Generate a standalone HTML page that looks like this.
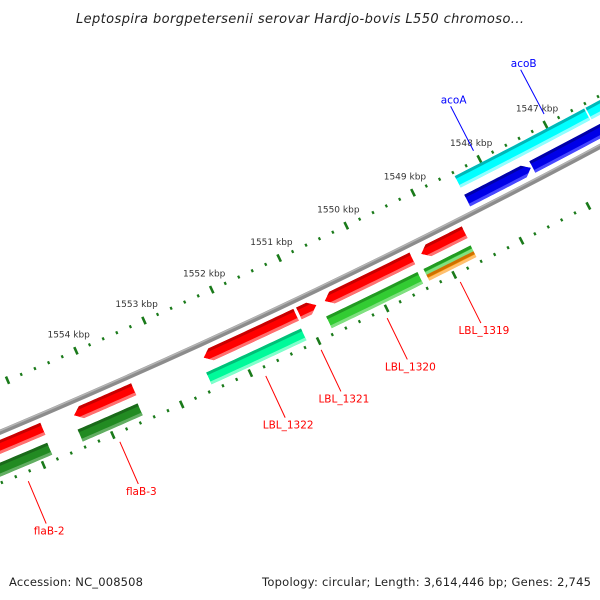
<!DOCTYPE html>
<html><head><meta charset="utf-8"><title>Genome map</title>
<style>
html,body{margin:0;padding:0;background:#fff;}
svg{display:block;}
text{font-family:"DejaVu Sans","Liberation Sans",sans-serif;}
</style></head>
<body>
<svg id="map" width="600" height="600" viewBox="0 0 600 600" xmlns="http://www.w3.org/2000/svg">
<rect width="600" height="600" fill="#fff"/>
<defs id="defs"></defs>
<g id="backbone-g"></g>
<g id="ticks-g"></g>
<g id="feat-g"></g>
<g id="labels-g"></g>
<text x="300" y="23" text-anchor="middle" font-size="13" font-style="italic" fill="#222" textLength="448">Leptospira borgpetersenii serovar Hardjo-bovis L550 chromoso...</text>
<text x="9" y="586" font-size="11.5" fill="#222" textLength="134">Accession: NC_008508</text>
<text x="591" y="586" font-size="11.5" fill="#222" text-anchor="end" textLength="329">Topology: circular; Length: 3,614,446 bp; Genes: 2,745</text>
</svg>
<script>
// ---- data ----
var tickLabelKbp = [1547, 1548, 1549, 1550, 1551, 1552, 1553, 1554];
var featStart = [1556.5, 1554.37, 1552.48, 1551.08, 1550.70, 1549.27, 1556.5, 1554.40, 1552.53, 1550.77, 1549.33, 1549.33, 1548.40, 1547.42, 1548.40, 1546.42];
var featEnd   = [1554.82, 1553.50, 1551.12, 1550.82, 1549.40, 1548.62, 1554.84, 1553.53, 1551.14, 1549.42, 1548.63, 1548.63, 1547.44, 1545.5, 1546.44, 1545.0];
var featRing  = ['out1','out1','out1','out1','out1','out1','out2','out2','out2','out2','out2a','out2b','in1','in1','in2','in2'];
var featArrow = ['L','L','L','R','L','L','N','N','N','N','N','N','R','R','N','N'];
var featColor = ['red','red','red','red','red','red','dkgreen','dkgreen','teal','lime','lime','orange','blue','blue','cyan','cyan'];
var labelText = ['flaB-2','flaB-3','LBL_1322','LBL_1321','LBL_1320','LBL_1319','acoA','acoB'];
var labelKbp  = [1555.27, 1553.95, 1551.83, 1551.02, 1550.05, 1548.97, 1548.02, 1546.95];
var labelSide = ['out','out','out','out','out','out','in','in'];

// ---- geometry ----
var CX = -2784, CY = -6186, R = 7180;
var TH0 = 66.37, DEG_PER_KBP = 0.598;
function ang(k){ return (TH0 + (k - 1554) * DEG_PER_KBP) * Math.PI / 180; }
function pt(k, r){ var a = ang(k); return [CX + r*Math.cos(a), CY + r*Math.sin(a)]; }
var NS = 'http://www.w3.org/2000/svg';
function mk(tag, attrs, parent){ var e = document.createElementNS(NS, tag); for (var a in attrs) e.setAttribute(a, attrs[a]); parent.appendChild(e); return e; }
function arcPts(k1, k2, r){ var n = 24, out = []; for (var i=0;i<=n;i++){ out.push(pt(k1 + (k2-k1)*i/n, r)); } return out; }
function ptsStr(p){ return p.map(function(q){return q[0].toFixed(2)+','+q[1].toFixed(2);}).join(' '); }

var palette = {
  red:['#c80000','#ff0000','#ff7070'], dkgreen:['#1a6a1a','#228b22','#62ae62'],
  teal:['#00c078','#00fa9a','#80ffcc'], lime:['#229a22','#33cc33','#80e080'],
  orange:['#d07000','#ff9500','#ffc070'], blue:['#0000a8','#0000e8','#4848ff'],
  cyan:['#00b8b8','#00ffff','#90ffff']
};
var ringR = { out1:[R+7,R+20], out2:[R+28,R+41], out2a:[R+28,R+34.5], out2b:[R+34.5,R+41], in1:[R-20,R-7], in2:[R-41,R-28] };

// backbone
var bb = document.getElementById('backbone-g');
var bbLine = mk('polyline', {points: ptsStr(arcPts(1557.5,1544,R)), fill:'none', stroke:'#8c8c8c', 'stroke-width':5}, bb);


var bbHi = mk('polyline', {points: ptsStr(arcPts(1557.5,1544,R-1.5)), fill:'none', stroke:'#b4b4b4', 'stroke-width':1.5}, bb);



// ticks
var tg = document.getElementById('ticks-g');
var rings = [R-45, R+47];
for (var ri=0; ri<2; ri++){
  for (var t=0; t<=65; t++){
    var k = 1544 + t*0.2;
    var major = (t % 5 === 0);
    var len = major ? 8 : 3;
    var p1 = pt(k, rings[ri]-len/2), p2 = pt(k, rings[ri]+len/2);
    var ln = mk('line', {x1:p1[0], y1:p1[1], x2:p2[0], y2:p2[1], stroke:'#1a7a1a', 'stroke-width': major?2.6:2.2}, tg);
    
    
  }
}
tickLabelKbp.forEach(function(k){
  var p = pt(k, R-63);
  var tx = mk('text', {x:p[0], y:p[1]+3, 'text-anchor':'middle', 'font-size':9, fill:'#333'}, tg);
  tx.textContent = k + ' kbp';
  
  
});

// features
var fg = document.getElementById('feat-g');
var defs = document.getElementById('defs');
var HEAD = 0.11;
for (var i=0;i<featStart.length;i++){
  var hi = Math.max(featStart[i], featEnd[i]), lo = Math.min(featStart[i], featEnd[i]);
  var r1 = ringR[featRing[i]][0], r2 = ringR[featRing[i]][1], rm = (r1+r2)/2;
  var pts;
  if (featArrow[i] === 'L'){
    pts = [pt(hi, rm)].concat(arcPts(hi-HEAD, lo, r1)).concat(arcPts(lo, hi-HEAD, r2));
  } else if (featArrow[i] === 'R'){
    pts = arcPts(hi, lo+HEAD, r1).concat([pt(lo, rm)]).concat(arcPts(lo+HEAD, hi, r2));
  } else {
    pts = arcPts(hi, lo, r1).concat(arcPts(lo, hi, r2));
  }
  var cp = mk('clipPath', {id:'clip'+i}, defs);
  mk('polygon', {points: ptsStr(pts)}, cp);
  var g = mk('g', {'clip-path':'url(#clip'+i+')'}, fg);
  
  
  var col = palette[featColor[i]];
  mk('polygon', {points: ptsStr(pts), fill: col[1]}, g);
  var strip1 = arcPts(hi+0.2, lo-0.2, r1-1).concat(arcPts(lo-0.2, hi+0.2, r1+3));
  mk('polygon', {points: ptsStr(strip1), fill: col[0]}, g);
  var strip2 = arcPts(hi+0.2, lo-0.2, r2-3).concat(arcPts(lo-0.2, hi+0.2, r2+1));
  mk('polygon', {points: ptsStr(strip2), fill: col[2]}, g);
}

// feature labels
var lg = document.getElementById('labels-g');
for (var j=0;j<labelText.length;j++){
  var k = labelKbp[j], out = labelSide[j] === 'out';
  var color = out ? '#ff0000' : '#0000ff';
  var a = out ? pt(k, R+56) : pt(k, R-55);
  var b = out ? pt(k, R+102) : pt(k, R-105);
  var l = mk('line', {x1:a[0], y1:a[1], x2:b[0], y2:b[1], stroke:color, 'stroke-width':1}, lg);
  
  
  var tx = mk('text', {x:b[0]+3, y: out ? b[1]+11 : b[1]-3, 'text-anchor':'middle', 'font-size':10.5, fill:color}, lg);
  tx.textContent = labelText[j];
  
  
}
</script>
</body></html>
